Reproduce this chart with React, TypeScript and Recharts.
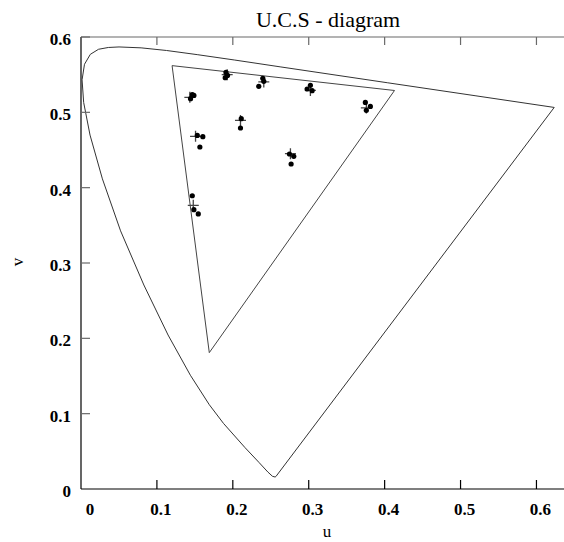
import React from 'react';
import { ScatterChart, Scatter, XAxis, YAxis, ReferenceLine, Label } from 'recharts';

// spectral locus (u', v'), 700 nm round to 380 nm, closed by the purple line
const locusU = [0.6234, 0.5203, 0.4035, 0.2623, 0.2026, 0.1531, 0.1127, 0.0792, 0.0501, 0.036, 0.0231, 0.0123, 0.0046, 0.0014, 0.0035, 0.0119, 0.0282, 0.0521, 0.0828, 0.1147, 0.1441, 0.169, 0.1877, 0.2161, 0.2347, 0.2461, 0.2522, 0.2557, 0.2568, 0.6234];
const locusV = [0.5065, 0.5219, 0.5393, 0.5604, 0.5694, 0.5766, 0.5821, 0.5856, 0.5868, 0.5861, 0.5837, 0.577, 0.5638, 0.5432, 0.5131, 0.4698, 0.4117, 0.3427, 0.2708, 0.2044, 0.151, 0.1119, 0.0871, 0.0549, 0.035, 0.0226, 0.0169, 0.0159, 0.0166, 0.5065];

// inner triangle
const gamutU = [0.12, 0.413, 0.169, 0.12];
const gamutV = [0.562, 0.529, 0.181, 0.562];

// measured points
const dotU = [0.191, 0.193, 0.19, 0.2395, 0.2408, 0.2342, 0.3022, 0.2979, 0.3045, 0.3746, 0.3812, 0.3759, 0.1466, 0.1487, 0.1443, 0.2111, 0.2101, 0.1532, 0.1605, 0.1566, 0.2746, 0.2803, 0.2768, 0.1466, 0.1487, 0.1545];
const dotV = [0.553, 0.549, 0.546, 0.5451, 0.5411, 0.5345, 0.5358, 0.531, 0.5287, 0.5132, 0.5079, 0.5026, 0.5234, 0.5225, 0.5181, 0.4916, 0.4792, 0.4694, 0.4677, 0.454, 0.4447, 0.4416, 0.4314, 0.3893, 0.3708, 0.3651];

// reference points (crosses)
const crossU = [0.1926, 0.2408, 0.3022, 0.3759, 0.1434, 0.2101, 0.1509, 0.2759, 0.1479];
const crossV = [0.55, 0.5403, 0.5291, 0.5058, 0.5199, 0.4893, 0.4681, 0.4451, 0.3765];

const xTicks = [0, 0.1, 0.2, 0.3, 0.4, 0.5, 0.6];
const yTicks = [0, 0.1, 0.2, 0.3, 0.4, 0.5, 0.6];
const uMax = 0.66;
const vMax = 0.6;

const zip = (us: number[], vs: number[]) => us.map((u, i) => ({ u, v: vs[i] }));
const locus = zip(locusU, locusV);
const gamut = zip(gamutU, gamutV);
const dots = zip(dotU, dotV);
const crosses = zip(crossU, crossV);

const font = 'Liberation Serif';

const BottomTick = (props: any) => {
  const { x, y, payload } = props;
  return (
    <g>
      {payload.value !== 0 && <path d={`M${x},${y}V${y - 9}`} stroke="black" strokeWidth={1.2} fill="none" />}
      <text x={x + (payload.value === 0 ? 9 : 4)} y={y + 26} textAnchor="middle" fill="black"
        fontFamily={font} fontWeight="bold" fontSize={17}>
        {String(payload.value)}
      </text>
    </g>
  );
};

const LeftTick = (props: any) => {
  const { x, y, payload } = props;
  return (
    <g>
      {payload.value !== 0 && <path d={`M${x},${y}H${x + 9}`} stroke="dimgray" strokeWidth={1.2} fill="none" />}
      <text x={x - 10} y={y + 8} textAnchor="end" fill="black" fontFamily={font} fontWeight="bold" fontSize={17}>
        {String(payload.value)}
      </text>
    </g>
  );
};

const XName = () => (
  <text x={327} y={537} textAnchor="middle" fill="black" fontFamily={font} fontSize={17}>u</text>
);

const YNameAndTitle = () => (
  <g>
    <text x={23} y={262} transform="rotate(-90 23 262)" textAnchor="middle" fill="black" fontFamily={font} fontSize={17}>v</text>
    <text x={328} y={27} textAnchor="middle" fill="black" fontFamily={font} fontSize={22}>U.C.S - diagram</text>
  </g>
);

const NoDot = () => <g />;
const Dot = (props: any) => <circle cx={props.cx} cy={props.cy} r={2.6} fill="black" />;
const Cross = (props: any) => (
  <path d={`M${props.cx - 5.5},${props.cy}h11M${props.cx},${props.cy - 5.5}v11`} stroke="#444" strokeWidth={1.3} fill="none" />
);

export default function App() {
  return (
    <div style={{ position: 'fixed', left: 0, top: 0, width: 564, height: 542, overflow: 'hidden', background: 'white' }}>
      <ScatterChart width={600} height={542} margin={{ top: 37, right: 18, bottom: 0, left: 0 }}>
        <XAxis type="number" dataKey="u" domain={[0, uMax]} ticks={xTicks} allowDataOverflow
          height={53} tickSize={0} tickMargin={0} tickLine={false} tick={BottomTick} axisLine={{ stroke: 'black', strokeWidth: 1.2 }}>
          <Label content={XName} />
        </XAxis>
        <YAxis type="number" dataKey="v" domain={[0, vMax]} ticks={yTicks} allowDataOverflow
          width={81} tickSize={0} tickMargin={0} tickLine={false} tick={LeftTick} axisLine={{ stroke: 'black', strokeWidth: 1.2 }}>
          <Label content={YNameAndTitle} />
        </YAxis>
        <ReferenceLine y={vMax} stroke="dimgray" strokeWidth={1.2} />
        {xTicks.slice(1).map((t) => (
          <ReferenceLine key={t} segment={[{ x: t, y: vMax }, { x: t, y: vMax - 0.0106 }]} stroke="dimgray" strokeWidth={1.2} />
        ))}
        <Scatter data={locus} line={{ stroke: '#333', strokeWidth: 1 }} shape={NoDot} isAnimationActive={false} />
        <Scatter data={gamut} line={{ stroke: '#444', strokeWidth: 1 }} shape={NoDot} isAnimationActive={false} />
        <Scatter data={crosses} shape={Cross} isAnimationActive={false} />
        <Scatter data={dots} shape={Dot} isAnimationActive={false} />
      </ScatterChart>
    </div>
  );
}
